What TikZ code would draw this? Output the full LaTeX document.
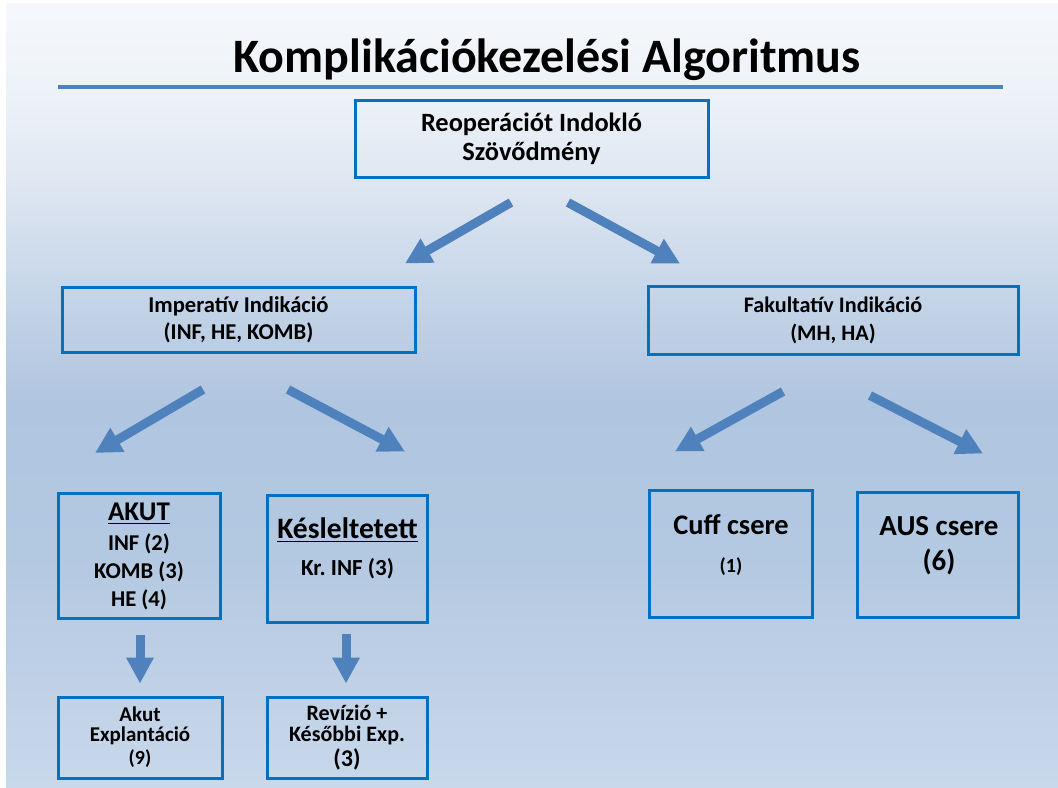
\documentclass[tikz,border=0pt]{standalone}
\usepackage{fontspec}
\setmainfont{Carlito}
\usetikzlibrary{arrows.meta}
\frenchspacing

\definecolor{boxblue}{HTML}{0070C0}
\definecolor{arrowblue}{HTML}{4F81BD}
\definecolor{bgtop}{HTML}{F5F8FC}
\definecolor{bghigh}{HTML}{EDF2F8}
\definecolor{bgup}{HTML}{DBE4F0}
\definecolor{bgupmid}{HTML}{C4D4E8}
\definecolor{bgmid}{HTML}{B0C5DF}
\definecolor{bglow}{HTML}{B3C8E1}
\definecolor{bgbottom}{HTML}{C9D8EB}

% TikZ maps the 25bp--75bp part of a shading onto the path
\pgfdeclareverticalshading{slidebg}{100bp}{color(0bp)=(bgbottom); color(25bp)=(bgbottom); color(40bp)=(bglow); color(49.5bp)=(bgmid); color(56bp)=(bgupmid); color(62.5bp)=(bgup); color(69bp)=(bghigh); color(75bp)=(bgtop); color(100bp)=(bgtop)}

\newcommand{\fs}[2]{\fontsize{#1}{#2}\selectfont}

\begin{document}
\begin{tikzpicture}[x=0.5pt, y=-0.5pt,
    box/.style={draw=boxblue, line width=1.5pt, align=center, inner sep=0pt, font=\bfseries},
    boxtext/.style={anchor=base, align=center, inner sep=0pt, font=\bfseries},
    blockarrow/.style={draw=arrowblue, line width=4.5pt, -{Triangle[length=13pt, width=13pt]}}]
    \useasboundingbox (0,0) rectangle (1058,787);

    % Slide background
    \fill[white] (0,0) rectangle (1058,787);
    \shade[shading=slidebg] (6,3) rectangle (1058,787);

    % Title and rule
    \node[anchor=base, font=\bfseries\fs{24}{28}] (title) at (547,72) {Komplikációkezelési Algoritmus};
    \draw[arrowblue, line width=1.6pt] (58,87) -- (1003,87);

    % Top level
    \node[box, minimum width=176.5pt, minimum height=38.5pt, font=\bfseries\fs{13.2}{14.5}] (reop) at (531.5,138.5) {Reoperációt Indokló\\Szövődmény};

    % Second level
    \node[box, minimum width=176.5pt, minimum height=32.5pt, font=\bfseries\fs{11.3}{13.5}] (imp) at (238.5,319.5) {Imperatív Indikáció\\(INF, HE, KOMB)};
    \node[box, minimum width=185pt, minimum height=34pt, font=\bfseries\fs{11.1}{14}] (fak) at (833,320) {Fakultatív Indikáció\\(MH, HA)};

    % Third level
    \node[box, minimum width=81pt, minimum height=62.5pt, font=\bfseries\fs{11.3}{14}] (akut) at (139,556) {{\fs{13.5}{14}\underline{AKUT}}\\[1pt]INF (2)\\KOMB (3)\\HE (4)};
    \node[box, minimum width=80pt, minimum height=63.5pt] (kesl) at (347,558.5) {};
    \node[boxtext, font=\bfseries\fs{11.5}{18.5}] (kesltext) at (347.5,575) {{\fs{14.8}{16}\underline{Késleltetett}}\\Kr. INF (3)};
    \node[box, minimum width=81.5pt, minimum height=63.5pt] (cuff) at (730.5,553.5) {};
    \node[boxtext, font=\bfseries\fs{14.2}{19}] (cufftext) at (731,572) {Cuff csere\\{\fs{10}{12}(1)}};
    \node[box, minimum width=80.5pt, minimum height=62.5pt] (aus) at (937.5,554.5) {};
    \node[boxtext, font=\bfseries\fs{14.5}{17.5}] (austext) at (939,570) {AUS csere\\(6)};

    % Fourth level
    \node[box, minimum width=82pt, minimum height=40.5pt, font=\bfseries\fs{10.5}{10}] (expl) at (140,737.5) {Akut\\Explantáció\\[1.5pt]{\fs{10}{12}(9)}};
    \node[box, minimum width=80pt, minimum height=40.5pt, font=\bfseries\fs{11}{10.5}] (rev) at (347,737.5) {Revízió +\\Későbbi Exp.\\[1pt]{\fs{12}{12}(3)}};

    % Block arrows
    \draw[blockarrow] ([shift={(-20.5,24)}]reop.south) -- ([shift={(166.5,-22)}]imp.north);
    \draw[blockarrow] ([shift={(36.5,24)}]reop.south) -- ([shift={(-153,-21)}]fak.north);
    \draw[blockarrow] ([shift={(-35.5,36)}]imp.south) -- ([shift={(-44,-39)}]akut.north);
    \draw[blockarrow] ([shift={(49.5,36)}]imp.south) -- ([shift={(58,-42)}]kesl.north);
    \draw[blockarrow] ([shift={(-50,36)}]fak.south) -- ([shift={(-55.5,-37)}]cuff.north);
    \draw[blockarrow] ([shift={(37,40)}]fak.south) -- ([shift={(45.5,-37)}]aus.north);
    \draw[blockarrow] ([shift={(1,15)}]akut.south) -- ([shift={(0,-12)}]expl.north);
    \draw[blockarrow] ([shift={(-1,10)}]kesl.south) -- ([shift={(-1,-12)}]rev.north);
\end{tikzpicture}
\end{document}
